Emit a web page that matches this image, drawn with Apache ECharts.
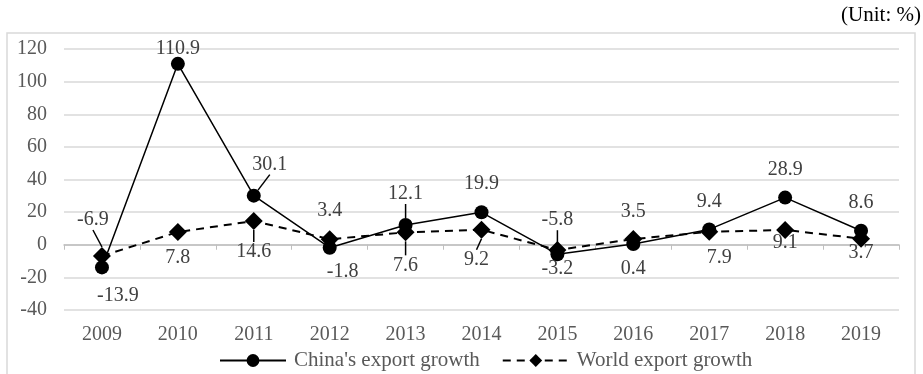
<!DOCTYPE html>
<html>
<head>
<meta charset="utf-8">
<script src="https://cdn.jsdelivr.net/npm/echarts@6/dist/echarts.min.js"></script>
<style>html,body{margin:0;padding:0;background:#fff}#c{width:923px;height:374px}</style>
</head>
<body>
<div id="c"></div>
<script>
var years = ['2009','2010','2011','2012','2013','2014','2015','2016','2017','2018','2019'];
var chinaGrowth = [-13.9, 110.9, 30.1, -1.8, 12.1, 19.9, -5.8, 0.4, 9.4, 28.9, 8.6];
var worldGrowth = [-6.9, 7.8, 14.6, 3.4, 7.6, 9.2, -3.2, 3.5, 7.9, 9.1, 3.7];
var yTicks = [-40, -20, 0, 20, 40, 60, 80, 100, 120];

// label offsets (pixels, relative to the point) and leader-line flags
var chinaOff = [[16,28],[0,-15],[16,-31],[13,24],[0,-31],[0,-29],[0,-34],[0,25],[0,-28],[0,-28],[0,-28]];
var chinaLead = [0,0,1,0,1,0,1,0,0,0,0];
var worldOff = [[-9,-36],[0,26],[0,31],[0,-28],[0,33],[-5,30],[0,19],[0,-27],[10,26],[0,13],[0,14]];
var worldLead = [1,0,1,0,1,1,0,0,0,0,0];

var FONT = 'Liberation Serif';
var chart = echarts.init(document.getElementById('c'));
var offs = [chinaOff, worldOff];

function mkData(vals, lead) {
  return vals.map(function (v, i) {
    return { value: v, labelLine: { show: !!lead[i], lineStyle: { color: '#000', width: 1.5 } } };
  });
}

chart.setOption({
  animation: false,
  textStyle: { fontFamily: FONT },
  graphic: [
    { type: 'rect', shape: { x: 7, y: 33, width: 908, height: 360 }, style: { fill: 'none', stroke: '#d9d9d9', lineWidth: 1.5 }, silent: true },
    { type: 'text', right: 2, top: 5, style: { text: '(Unit: %)', font: '21px "Liberation Serif"', fill: '#000' } }
  ],
  grid: { left: 64, right: 24, top: 49, bottom: 64 },
  legend: {
    top: 347, left: 214, itemWidth: 66, itemHeight: 16, itemGap: 22, padding: [3, 5, 3, 5],
    textStyle: { fontFamily: FONT, fontSize: 21, color: '#595959', padding: [0, 0, 0, 3] },
    data: ["China's export growth", 'World export growth']
  },
  xAxis: [
    { type: 'category', data: years, position: 'bottom',
      axisLine: { onZero: false, show: false }, axisTick: { show: false },
      axisLabel: { fontFamily: FONT, fontSize: 20, color: '#595959', margin: 15 } },
    { type: 'category', data: years, position: 'bottom',
      axisLine: { onZero: true, lineStyle: { color: '#bfbfbf', width: 1.5 } },
      axisTick: { show: true, inside: false, length: 5, lineStyle: { color: '#bfbfbf' } },
      axisLabel: { show: false } }
  ],
  yAxis: {
    type: 'value', min: yTicks[0], max: yTicks[yTicks.length - 1], interval: 20,
    axisLine: { show: false }, axisTick: { show: false },
    axisLabel: { fontFamily: FONT, fontSize: 20, color: '#595959', margin: 17 },
    splitLine: { lineStyle: { color: '#d9d9d9', width: 1.5 } }
  },
  series: [
    { name: "China's export growth", type: 'line', data: mkData(chinaGrowth, chinaLead),
      symbol: 'circle', symbolSize: 14, z: 3,
      itemStyle: { color: '#000' }, lineStyle: { color: '#000', width: 1.5 },
      label: { show: true, position: 'inside', fontFamily: FONT, fontSize: 20, color: '#404040' } },
    { name: 'World export growth', type: 'line', data: mkData(worldGrowth, worldLead),
      symbol: 'diamond', symbolSize: 18, z: 2,
      itemStyle: { color: '#000' }, lineStyle: { color: '#000', width: 2, type: [8, 6] },
      label: { show: true, position: 'inside', fontFamily: FONT, fontSize: 20, color: '#404040' } }
  ],
  labelLayout: function (p) {
    var o = offs[p.seriesIndex][p.dataIndex];
    return { dx: o[0], dy: o[1] };
  }
});
</script>
</body>
</html>
